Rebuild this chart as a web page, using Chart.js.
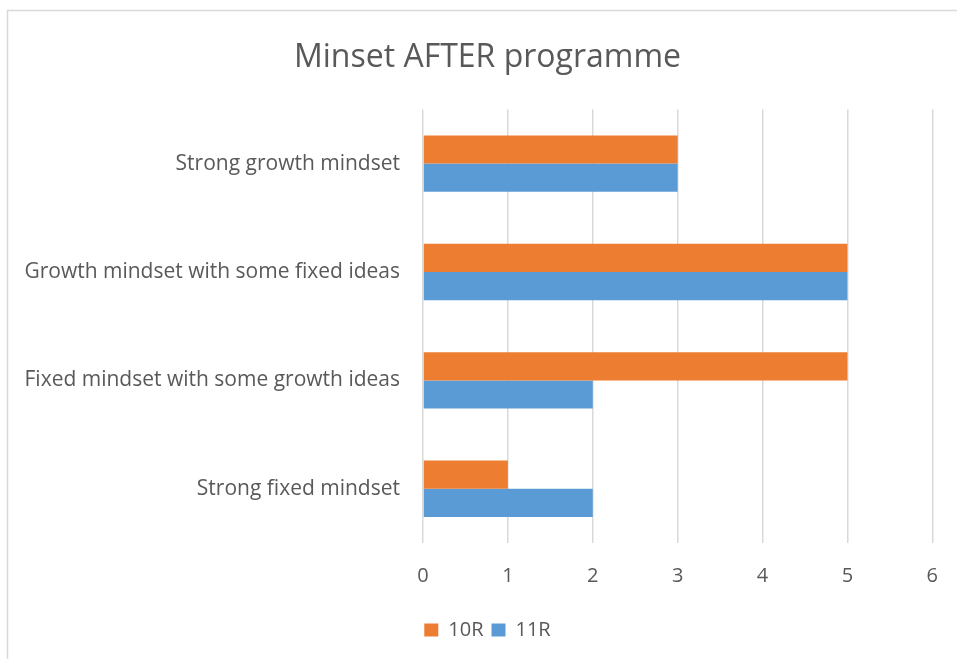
<!DOCTYPE html>
<html>
<head>
<meta charset="utf-8">
<script src="https://cdn.jsdelivr.net/npm/chart.js@4/dist/chart.umd.min.js"></script>
<style>
    html, body { margin: 0; padding: 0; background: #ffffff; }
    #wrap { position: relative; width: 957px; height: 659px; }
</style>
</head>
<body>
<div id="wrap"><canvas id="chart"></canvas></div>
<script>
'use strict';

// Categories, top to bottom as drawn
var categories = [
    'Strong growth mindset',
    'Growth mindset with some fixed ideas',
    'Fixed mindset with some growth ideas',
    'Strong fixed mindset',
];
var values10R = [3, 5, 5, 1];
var values11R = [3, 5, 2, 2];
var seriesNames = ['10R', '11R'];

var textColor = '#595959';
var gridColor = '#d9d9d9';
var fontFamily = "'Open Sans', 'Noto Sans', sans-serif";

// Thin frame around the whole chart, like the Excel chart area
var framePlugin = {
    id: 'frame',
    beforeDraw: function (chart) {
        var ctx = chart.ctx;
        ctx.save();
        ctx.fillStyle = '#ffffff';
        ctx.fillRect(0, 0, chart.width, chart.height);
        ctx.strokeStyle = gridColor;
        ctx.lineWidth = 1.5;
        ctx.strokeRect(7.5, 10.5, chart.width + 10, chart.height + 10);
        ctx.restore();
    },
};

var config = {
    type: 'bar',
    data: {
        labels: categories,
        datasets: [{
            label: seriesNames[0],
            data: values10R,
            backgroundColor: '#ed7d31',
            borderWidth: 0,
        }, {
            label: seriesNames[1],
            data: values11R,
            backgroundColor: '#5b9bd5',
            borderWidth: 0,
        }],
    },
    options: {
        indexAxis: 'y',
        responsive: true,
        maintainAspectRatio: false,
        animation: false,
        devicePixelRatio: 1,
        categoryPercentage: 0.52,
        barPercentage: 1.0,
        layout: {
            padding: {left: 18, right: 0, top: 0, bottom: 9},
        },
        plugins: {
            title: {
                display: true,
                text: 'Minset AFTER programme',
                color: textColor,
                font: {family: fontFamily, size: 32, weight: 'normal'},
                padding: {top: 39, bottom: 32},
            },
            legend: {
                position: 'bottom',
                labels: {
                    color: textColor,
                    font: {family: fontFamily, size: 20},
                    boxWidth: 14,
                    boxHeight: 13,
                    padding: 8,
                },
            },
            tooltip: {enabled: false},
        },
        scales: {
            x: {
                min: 0,
                max: 6,
                afterFit: function (scale) {
                    // a little air between the tick labels and the legend
                    scale.height += 5;
                },
                ticks: {
                    stepSize: 1,
                    color: textColor,
                    font: {family: fontFamily, size: 20},
                    padding: 19,
                },
                grid: {
                    color: gridColor,
                    lineWidth: 1.5,
                    drawTicks: true,
                    tickLength: 2,
                    tickColor: 'rgba(0,0,0,0)',
                },
                border: {display: false},
            },
            y: {
                afterFit: function (scale) {
                    scale.width = 405;
                },
                ticks: {
                    color: textColor,
                    font: {family: fontFamily, size: 21},
                    padding: 15,
                },
                grid: {display: false},
                border: {display: false},
            },
        },
    },
    plugins: [framePlugin],
};

var canvas = document.getElementById('chart');
new Chart(canvas.getContext('2d'), config);
</script>
</body>
</html>
